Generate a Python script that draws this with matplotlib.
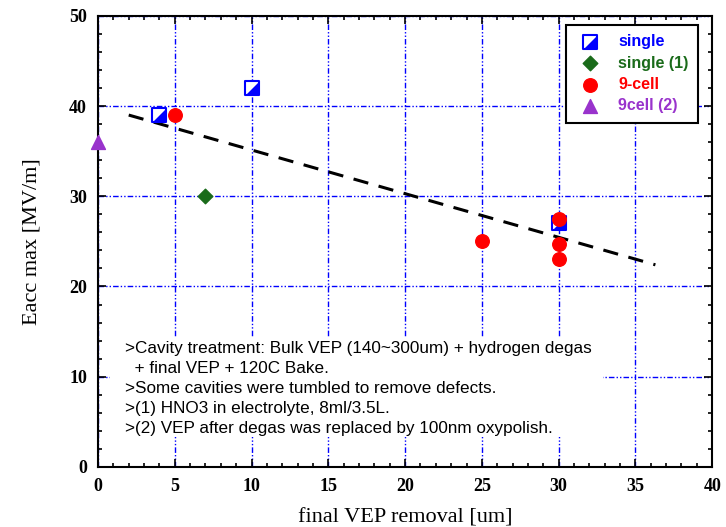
import matplotlib
matplotlib.use("Agg")
import matplotlib.pyplot as plt
from matplotlib.patches import Rectangle
from matplotlib.ticker import MultipleLocator

# measured gradients vs final VEP removal
single_x = [4, 10, 30]
single_y = [39, 42, 27]
single1_x = [7]
single1_y = [30]
cell9_x = [5, 25, 30, 30, 30]
cell9_y = [39, 25, 27.5, 24.7, 23]
cell9b_x = [0]
cell9b_y = [36]

# trend line end points
trend_x = [2, 36.3]
trend_y = [39, 22.4]

notes = [
    ">Cavity treatment: Bulk VEP (140~300um) + hydrogen degas",
    "  + final VEP + 120C Bake.",
    ">Some cavities were tumbled to remove defects.",
    ">(1) HNO3 in electrolyte, 8ml/3.5L.",
    ">(2) VEP after degas was replaced by 100nm oxypolish.",
]

SERIF = "Liberation Serif"
SANS = "Liberation Sans"

fig = plt.figure(figsize=(7.26, 5.27), dpi=100)
ax = fig.add_axes([0.135, 0.114, 0.846, 0.856])

ax.set_xlim(0, 40)
ax.set_ylim(0, 50)
ax.xaxis.set_major_locator(MultipleLocator(5))
ax.xaxis.set_minor_locator(MultipleLocator(1))
ax.yaxis.set_major_locator(MultipleLocator(10))
ax.yaxis.set_minor_locator(MultipleLocator(2))
ax.tick_params(which="both", direction="in", top=True, right=True, width=1.2)
ax.tick_params(which="major", length=6, labelsize=13, pad=8)
ax.tick_params(which="minor", length=3)
for lab in ax.get_xticklabels() + ax.get_yticklabels():
    lab.set_fontfamily(SERIF)
    lab.set_fontweight("bold")
for sp in ax.spines.values():
    sp.set_linewidth(1.5)

ax.grid(True, which="major", color="blue", linewidth=1.0,
        linestyle=(0, (4, 1.5, 1, 1.5, 1, 1.5)))
ax.set_axisbelow(True)

ax.plot(trend_x, trend_y, color="black", linewidth=2.2,
        linestyle=(0, (5, 3.5)), zorder=2)

# half-filled square: open square plus filled lower-right triangle
tri = [(-1, -1), (1, -1), (1, 1), (-1, -1)]
sq_open = ax.scatter(single_x, single_y, marker="s", s=110, facecolor="white",
                     edgecolor="blue", linewidths=1.5, zorder=3)
sq_fill = ax.scatter(single_x, single_y, marker=tri, s=95, color="blue",
                     linewidths=0, zorder=3)
dia = ax.scatter(single1_x, single1_y, marker="D", s=55, color="#1a6b1a",
                 zorder=4)
circ = ax.scatter(cell9_x, cell9_y, marker="o", s=95, color="red", zorder=5)
trg = ax.scatter(cell9b_x, cell9b_y, marker="^", s=100, color="#9933cc",
                 zorder=5, clip_on=False)

leg = ax.legend([(sq_open, sq_fill), dia, circ, trg],
                ["single", "single (1)", "9-cell", "9cell (2)"],
                loc="upper right", bbox_to_anchor=(0.9905, 0.998),
                fancybox=False, framealpha=1, edgecolor="black",
                prop={"family": SANS, "weight": "bold", "size": 11.5},
                handletextpad=0.9, borderpad=0.6, labelspacing=0.4,
                handlelength=1.8, scatterpoints=1)
leg.get_frame().set_linewidth(1.5)
for txt, c in zip(leg.get_texts(), ["blue", "#1a6b1a", "red", "#9933cc"]):
    txt.set_color(c)

# white panel behind the notes hides the grid there
ax.add_patch(Rectangle((0.0195, 0.066), 0.802, 0.22, transform=ax.transAxes,
                       facecolor="white", edgecolor="none", zorder=1))
ax.text(0.044, 0.279, "\n".join(notes), transform=ax.transAxes,
        family=SANS, fontsize=12.3, linespacing=1.42, va="top", ha="left",
        zorder=6)

ax.set_xlabel("final VEP removal [um]", family=SERIF, fontsize=16,
              labelpad=10)
ax.set_ylabel("Eacc max [MV/m]", family=SERIF, fontsize=16, labelpad=20)

fig.savefig("out.png", dpi=100)
